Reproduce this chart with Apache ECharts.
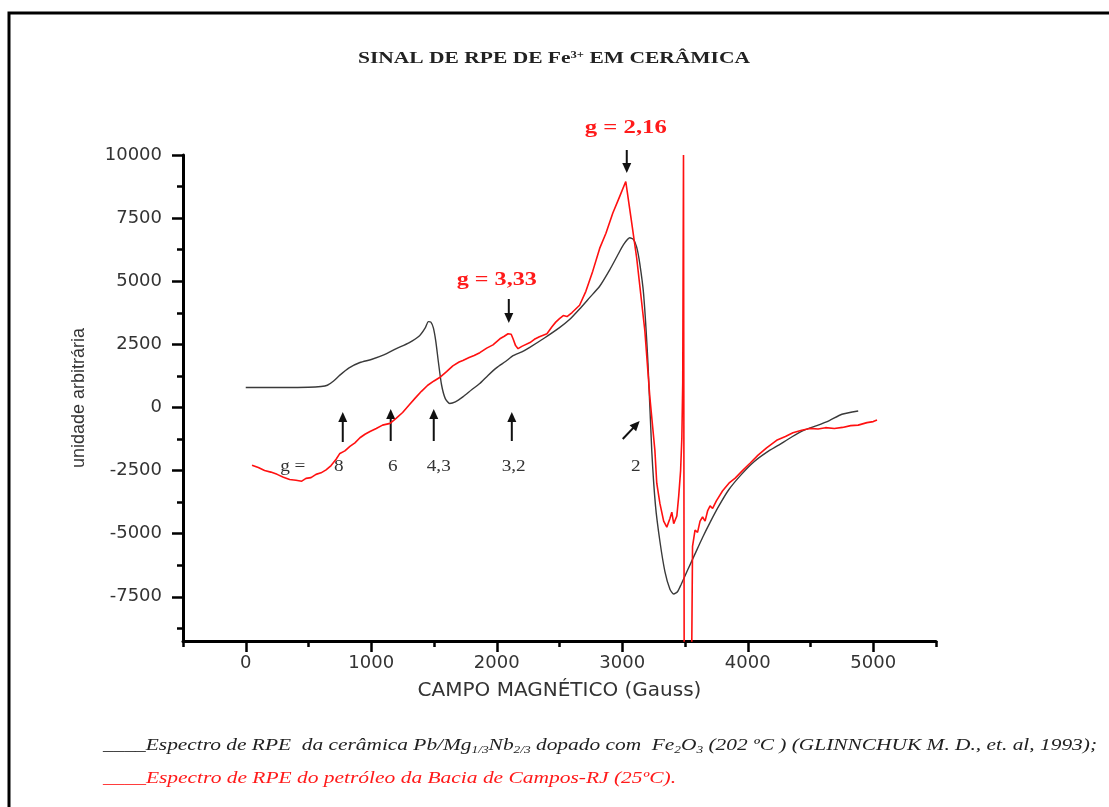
<!DOCTYPE html>
<html><head><meta charset="utf-8">
<script src="https://cdn.jsdelivr.net/npm/echarts@6/dist/echarts.min.js"></script>
<style>html,body{margin:0;padding:0;background:#fff}#c{width:1109px;height:807px}</style>
</head><body><div id="c"></div>
<script>
// ---- data ----
const ceramicaX = [0,300,500,600,650,700,750,820,910,1000,1100,1200,1300,1385,1430,1455,1475,1495,1515,1535,1560,1590,1625,1670,1730,1800,1865,1930,2000,2070,2130,2200,2260,2380,2500,2580,2660,2740,2820,2900,2960,3010,3060,3090,3115,3140,3170,3205,3235,3265,3300,3340,3380,3410,3440,3470,3520,3580,3640,3700,3770,3850,3950,4050,4150,4250,4350,4450,4550,4650,4750,4880];
const ceramicaY = [790,790,800,830,880,1050,1280,1560,1780,1900,2080,2330,2560,2840,3150,3400,3380,3150,2600,1800,900,350,160,220,420,700,950,1270,1580,1820,2050,2200,2370,2750,3160,3480,3900,4350,4800,5450,6000,6450,6720,6650,6350,5690,4500,1740,-1700,-3900,-5300,-6500,-7200,-7390,-7300,-7000,-6450,-5800,-5150,-4550,-3900,-3250,-2650,-2150,-1780,-1480,-1170,-900,-720,-520,-270,-140];
const petroleoX = [50,100,150,200,250,300,350,400,446,480,520,560,600,640,680,720,750,790,830,870,910,950,990,1040,1090,1150,1200,1250,1300,1350,1400,1450,1500,1545,1600,1650,1700,1730,1780,1820,1865,1920,1970,2025,2060,2090,2115,2130,2150,2170,2200,2265,2300,2340,2400,2440,2470,2500,2530,2560,2600,2660,2710,2765,2820,2870,2925,2975,3028,3070,3115,3180,3220,3260,3275,3300,3330,3355,3380,3395,3410,3420,3435,3450,3465,3475,3482,3488,3494,3550,3560,3580,3600,3620,3640,3660,3680,3700,3720,3750,3800,3850,3900,3960,4020,4080,4150,4230,4300,4360,4430,4495,4560,4620,4690,4755,4820,4880,4950,5000,5030];
const petroleoY = [-2290,-2380,-2500,-2560,-2650,-2760,-2850,-2880,-2920,-2810,-2780,-2650,-2590,-2470,-2300,-2050,-1820,-1720,-1540,-1400,-1200,-1060,-950,-830,-700,-630,-420,-200,90,370,640,880,1050,1185,1420,1650,1800,1860,1980,2060,2170,2350,2480,2720,2820,2920,2900,2720,2450,2330,2420,2570,2700,2800,2920,3200,3380,3520,3640,3600,3760,4050,4600,5400,6300,6900,7700,8300,8950,7500,5920,3040,400,-1700,-3000,-3800,-4500,-4740,-4400,-4150,-4600,-4660,-4300,-3500,-2500,-1180,1000,10000,-12000,-12000,-5500,-4860,-4950,-4500,-4340,-4500,-4100,-3900,-4000,-3700,-3300,-3000,-2800,-2490,-2200,-1900,-1600,-1300,-1150,-1000,-900,-830,-850,-800,-830,-790,-720,-700,-600,-560,-500];
const yMajorTicks = [-7500,-5000,-2500,0,2500,5000,7500,10000];
const yMinorTicks = [-8750,-6250,-3750,-1250,1250,3750,6250,8750];
const xMajorTicks = [0,1000,2000,3000,4000,5000];
const xMinorTicks = [-500,500,1500,2500,3500,4500,5500];
// annotations (data coordinates)
const arrowTail = [[3036,10198],[2096,4296],[773,-1368],[1155,-1328],[1498,-1328],[2120,-1328],[3004,-1249]];
const arrowTip  = [[3036,9287],[2096,3346],[773,-179],[1155,-60],[1498,-60],[2120,-179],[3139,-536]];
const gLabels = ['g =','8','6','4,3','3,2','2'];
const gLabelX = [375,741,1171,1538,2135,3108];
const gLabelY = -2358;
const redNotes = ['g = 2,16','g = 3,33'];
const redNoteX = [3028,2000];
const redNoteY = [11069,5049];
const titleText = 'SINAL DE RPE DE Fe';
const legendNames = ['Espectro de RPE do petróleo da Bacia de Campos-RJ (25ºC).'];

const zip = (a,b)=>a.map((v,i)=>[v,b[i]]);
const chart = echarts.init(document.getElementById('c'));
const axisFontSans = '"DejaVu Sans"';
const baseX = {type:'value', min:-500, max:5500, gridIndex:0};
const baseY = {type:'value', min:-9250, max:10000, gridIndex:0};
chart.setOption({
  animation:false,
  backgroundColor:'#fff',
  grid:{left:183, right:173, top:155, bottom:166},
  xAxis:[
    Object.assign({}, baseX, {
      position:'bottom',
      name:'CAMPO MAGNÉTICO (Gauss)', nameLocation:'middle', nameGap:40,
      nameTextStyle:{fontFamily:axisFontSans, fontSize:20, color:'#333'},
      axisLine:{onZero:false, lineStyle:{color:'#000', width:3}},
      axisTick:{inside:false, length:11, lineStyle:{color:'#000', width:2.5}, customValues:xMajorTicks},
      axisLabel:{margin:13, fontFamily:axisFontSans, fontSize:18, color:'#333', customValues:xMajorTicks, formatter:v=>String(v)},
      splitLine:{show:false}
    }),
    Object.assign({}, baseX, {
      position:'bottom',
      axisLine:{show:false, onZero:false},
      axisTick:{length:6, lineStyle:{color:'#000', width:2.5}, customValues:xMinorTicks},
      axisLabel:{show:false, customValues:xMinorTicks},
      splitLine:{show:false}
    })
  ],
  yAxis:[
    Object.assign({}, baseY, {
      position:'left',
      name:'unidade arbitrária', nameLocation:'middle', nameGap:95, nameRotate:90,
      nameTextStyle:{fontFamily:'"Liberation Sans"', fontSize:18, color:'#333'},
      axisLine:{onZero:false, lineStyle:{color:'#000', width:3}},
      axisTick:{length:11, lineStyle:{color:'#000', width:2.5}, customValues:yMajorTicks},
      axisLabel:{margin:21, fontFamily:axisFontSans, fontSize:18, color:'#333', customValues:yMajorTicks, formatter:v=>String(v)},
      splitLine:{show:false}
    }),
    Object.assign({}, baseY, {
      position:'left',
      axisLine:{show:false, onZero:false},
      axisTick:{length:6, lineStyle:{color:'#000', width:2.5}, customValues:yMinorTicks},
      axisLabel:{show:false, customValues:yMinorTicks},
      splitLine:{show:false}
    })
  ],
  series:[
    {name:'cerâmica', type:'line', xAxisIndex:0, yAxisIndex:0, data:zip(ceramicaX, ceramicaY),
      showSymbol:false, smooth:0.2, lineStyle:{color:'#3a3a3a', width:1.4}, itemStyle:{color:'#3a3a3a'}, clip:true, z:2},
    {name:'petróleo', type:'line', xAxisIndex:0, yAxisIndex:0, data:zip(petroleoX, petroleoY),
      showSymbol:false, lineStyle:{color:'#ff1010', width:1.6}, itemStyle:{color:'#ff1010'}, clip:true, z:3}
  ]
});

// ---- text helpers ----
const cv = document.createElement('canvas').getContext('2d');
function tw(font, text){ cv.font = font; return cv.measureText(text).width; }
const P = p => chart.convertToPixel({xAxisIndex:0, yAxisIndex:0}, p);
const els = [];
// border
els.push({type:'rect', shape:{x:9, y:13, width:1300, height:1000}, style:{fill:'none', stroke:'#000', lineWidth:3}, silent:true});
// title
const serif = '"Liberation Serif"';
const tSegs = [['bold 17px '+serif, titleText], ['bold 10px '+serif, '3+'], ['bold 17px '+serif, ' EM CERÂMICA']];
const tW = tSegs.reduce((s,g)=>s+tw(g[0],g[1]),0);
els.push({type:'text', x:358, y:59, scaleX:392/tW, style:{
  text:'{a|'+titleText+'}{s|3+}{a| EM CERÂMICA}', align:'left', verticalAlign:'middle',
  rich:{a:{fontFamily:serif, fontWeight:'bold', fontSize:17, fill:'#222'},
        s:{fontFamily:serif, fontWeight:'bold', fontSize:10, fill:'#222', padding:[0,0,8,0]}}}});
// arrows
for (let i=0;i<arrowTail.length;i++){
  const a = P(arrowTail[i]), b = P(arrowTip[i]);
  const dx=b[0]-a[0], dy=b[1]-a[1], L=Math.hypot(dx,dy), ux=dx/L, uy=dy/L;
  const hl=10, hw=4.5;
  const bx=b[0]-ux*hl, by=b[1]-uy*hl;
  els.push({type:'line', shape:{x1:a[0],y1:a[1],x2:bx+ux*2,y2:by+uy*2}, style:{stroke:'#111', lineWidth:2}});
  els.push({type:'polygon', shape:{points:[[b[0],b[1]],[bx-uy*hw,by+ux*hw],[bx+uy*hw,by-ux*hw]]}, style:{fill:'#111'}});
}
// g labels
for (let i=0;i<gLabels.length;i++){
  const p = P([gLabelX[i], gLabelY]);
  els.push({type:'text', x:p[0], y:p[1], scaleX:1.2, style:{text:gLabels[i], font:'16px '+serif, fill:'#333', align:'center', verticalAlign:'middle'}});
}
// red notes
const noteW = [82,80];
for (let i=0;i<redNotes.length;i++){
  const p = P([redNoteX[i], redNoteY[i]]);
  const f = 'bold 18px '+serif;
  els.push({type:'text', x:p[0], y:p[1], scaleX:noteW[i]/tw(f, redNotes[i]), style:{text:redNotes[i], font:f, fill:'#ff1a1a', align:'center', verticalAlign:'middle'}});
}
// legend caption
const lf = 'italic 16px '+serif, lfs = 'italic 10px '+serif;
const l1 = [['____Espectro de RPE  da cerâmica Pb/Mg',0],['1/3',1],['Nb',0],['2/3',1],[' dopado com  Fe',0],['2',1],['O',0],['3',1],[' (202 ºC ) (GLINNCHUK M. D., et. al, 1993);',0]];
const l1W = l1.reduce((s,g)=>s+tw(g[1]?lfs:lf, g[0]),0);
els.push({type:'text', x:103, y:746, scaleX:(1097-103)/l1W, style:{
  text:l1.map(g=>'{'+(g[1]?'b':'a')+'|'+g[0]+'}').join(''), align:'left', verticalAlign:'middle',
  rich:{a:{fontFamily:serif, fontStyle:'italic', fontSize:16, fill:'#222'},
        b:{fontFamily:serif, fontStyle:'italic', fontSize:10, fill:'#222', padding:[8,0,0,0]}}}});
const l2 = '____'+legendNames[0];
els.push({type:'text', x:103, y:779, scaleX:(676-103)/tw(lf,l2), style:{text:l2, font:lf, fill:'#ff1a1a', align:'left', verticalAlign:'middle'}});
chart.setOption({graphic:{elements:els}});
</script></body></html>
